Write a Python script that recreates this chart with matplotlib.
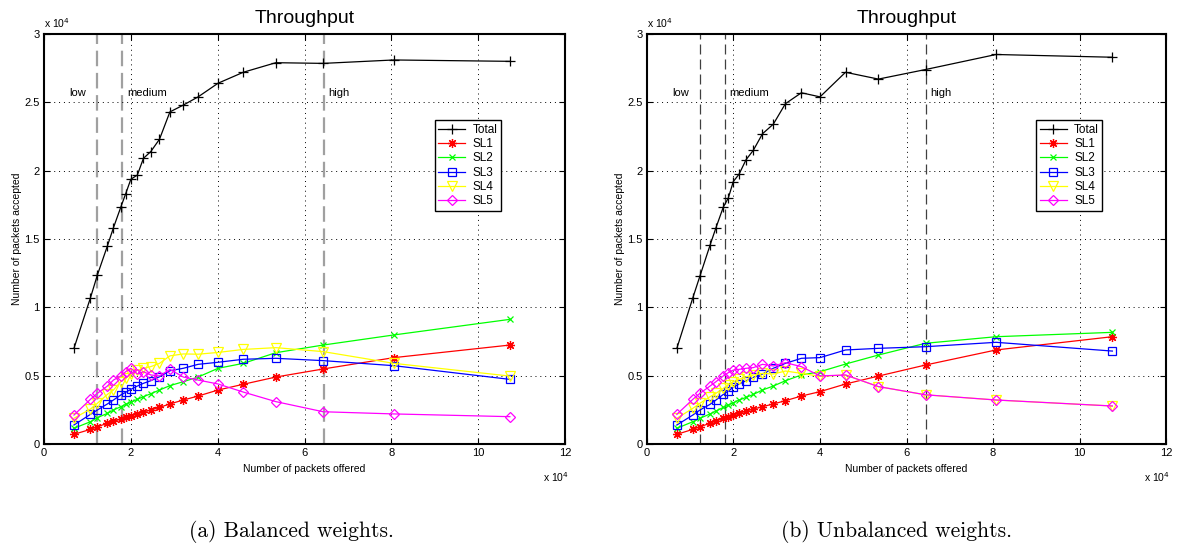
import matplotlib
matplotlib.use("Agg")
import matplotlib.pyplot as plt
from matplotlib.ticker import FormatStrFormatter

plt.rcParams['font.family'] = ['Liberation Sans', 'DejaVu Sans']

# ==== DATA (x and y in units of 1e4 packets) ====
x_bal = [0.69, 1.07, 1.23, 1.46, 1.60, 1.77, 1.88, 2.00, 2.15, 2.29, 2.46,
         2.66, 2.90, 3.21, 3.55, 4.01, 4.59, 5.34, 6.43, 8.06, 10.73]
total_bal = [0.70, 1.07, 1.237, 1.449, 1.583, 1.734, 1.83, 1.937, 1.968, 2.09, 2.14,
             2.23, 2.43, 2.48, 2.54, 2.64, 2.72, 2.79, 2.785, 2.81, 2.80]
sl1_bal = [0.071, 0.107, 0.127, 0.151, 0.166, 0.183, 0.195, 0.205, 0.22, 0.234, 0.249,
           0.268, 0.293, 0.322, 0.351, 0.395, 0.437, 0.49, 0.549, 0.632, 0.724]
sl2_bal = [0.115, 0.163, 0.193, 0.224, 0.249, 0.273, 0.29, 0.305, 0.327, 0.346, 0.368,
           0.395, 0.427, 0.456, 0.49, 0.554, 0.59, 0.668, 0.724, 0.798, 0.912]
sl3_bal = [0.139, 0.217, 0.249, 0.293, 0.322, 0.359, 0.378, 0.40, 0.424, 0.444, 0.463,
           0.492, 0.536, 0.554, 0.583, 0.598, 0.62, 0.627, 0.61, 0.573, 0.473]
sl4_bal = [0.188, 0.256, 0.298, 0.363, 0.395, 0.456, 0.48, 0.512, 0.54, 0.554, 0.566,
           0.59, 0.645, 0.659, 0.657, 0.67, 0.692, 0.705, 0.676, 0.59, 0.497]
sl5_bal = [0.212, 0.327, 0.371, 0.424, 0.468, 0.498, 0.529, 0.554, 0.512, 0.529, 0.505,
           0.498, 0.546, 0.49, 0.468, 0.439, 0.38, 0.31, 0.236, 0.22, 0.20]

x_unb = [0.69, 1.06, 1.225, 1.457, 1.595, 1.765, 1.88, 1.995, 2.13, 2.29, 2.46,
         2.67, 2.92, 3.20, 3.57, 4.00, 4.59, 5.35, 6.44, 8.07, 10.76]
total_unb = [0.70, 1.07, 1.23, 1.454, 1.583, 1.734, 1.80, 1.92, 1.975, 2.08, 2.15,
             2.27, 2.34, 2.49, 2.57, 2.54, 2.72, 2.67, 2.74, 2.85, 2.83]
sl1_unb = [0.071, 0.107, 0.127, 0.151, 0.168, 0.188, 0.20, 0.212, 0.224, 0.241, 0.256,
           0.273, 0.293, 0.317, 0.351, 0.383, 0.439, 0.497, 0.578, 0.688, 0.785]
sl2_unb = [0.115, 0.163, 0.188, 0.22, 0.241, 0.268, 0.285, 0.302, 0.322, 0.341, 0.363,
           0.395, 0.424, 0.463, 0.505, 0.529, 0.585, 0.651, 0.737, 0.785, 0.817]
sl3_unb = [0.139, 0.212, 0.249, 0.29, 0.322, 0.363, 0.388, 0.415, 0.439, 0.463, 0.488,
           0.512, 0.554, 0.59, 0.627, 0.632, 0.688, 0.70, 0.712, 0.744, 0.68]
sl4_unb = [0.188, 0.261, 0.298, 0.346, 0.371, 0.407, 0.432, 0.456, 0.473, 0.492, 0.505,
           0.517, 0.512, 0.534, 0.517, 0.495, 0.505, 0.42, 0.36, 0.322, 0.278]
sl5_unb = [0.217, 0.327, 0.371, 0.424, 0.456, 0.498, 0.522, 0.541, 0.546, 0.554, 0.559,
           0.583, 0.571, 0.595, 0.566, 0.498, 0.505, 0.42, 0.36, 0.322, 0.278]

# load region boundaries and labels
bounds = [1.23, 1.80, 6.45]
region_names = ["low", "medium", "high"]
region_x = [0.58, 1.91, 6.54]

series_names = ["Total", "SL1", "SL2", "SL3", "SL4", "SL5"]
colors = ["black", "#ff0000", "#00ff00", "#0000ff", "#ffff00", "#ff00ff"]
markers = ["+", (8, 2, 0), "x", "s", "v", "D"]
msizes = [7, 6.5, 4.5, 5.5, 6.5, 5.5]

panels = [
    (x_bal, [total_bal, sl1_bal, sl2_bal, sl3_bal, sl4_bal, sl5_bal],
     "(a) Balanced weights.", "#a0a0a0", 1.6, (7, 3)),
    (x_unb, [total_unb, sl1_unb, sl2_unb, sl3_unb, sl4_unb, sl5_unb],
     "(b) Unbalanced weights.", "#404040", 0.9, (8, 4)),
]

fig = plt.figure(figsize=(11.81, 5.45), dpi=100)
ax_rects = [[44 / 1181, 101 / 545, 521 / 1181, 410 / 545],
            [647 / 1181, 101 / 545, 519 / 1181, 410 / 545]]
caption_x = [0.247, 0.759]

for i, (xs, ys, caption, dcol, dlw, dash) in enumerate(panels):
    ax = fig.add_axes(ax_rects[i])

    for b in bounds:
        ax.axvline(b, color=dcol, lw=dlw, ls=(0, dash), zorder=1)
    for name, rx in zip(region_names, region_x):
        ax.text(rx, 2.57, name, fontsize=8, va="center", ha="left")

    for name, y, c, m, ms in zip(series_names, ys, colors, markers, msizes):
        ax.plot(xs, y, color=c, marker=m, ms=ms, lw=0.9, mfc="none",
                mec=c, mew=0.9, label=name, zorder=3)

    ax.set_xlim(0, 12)
    ax.set_ylim(0, 3)
    ax.set_xticks(range(0, 13, 2))
    ax.set_yticks([0, 0.5, 1, 1.5, 2, 2.5, 3])
    ax.yaxis.set_major_formatter(FormatStrFormatter('%g'))
    ax.tick_params(direction="in", top=True, right=True, labelsize=8,
                   length=4, width=0.8, pad=3)
    ax.grid(True, ls=(0, (1, 4)), color="black", lw=0.7)
    for s in ax.spines.values():
        s.set_linewidth(1.5)

    ax.set_title("Throughput", fontsize=14, pad=8)
    ax.set_xlabel("Number of packets offered", fontsize=7.5, labelpad=4)
    ax.set_ylabel("Number of packets accepted", fontsize=7.5, labelpad=2)
    ax.text(0.0, 1.01, r"x 10$^4$", transform=ax.transAxes, fontsize=7.5,
            ha="left", va="bottom")
    ax.text(1.008, -0.08, r"x 10$^4$", transform=ax.transAxes, fontsize=7.5,
            ha="right", va="center")

    leg = ax.legend(loc="upper left", bbox_to_anchor=(0.75, 0.79), fontsize=8.5,
                    fancybox=False, framealpha=1, edgecolor="black",
                    borderpad=0.3, labelspacing=0.2, handlelength=2.3,
                    handletextpad=0.6, borderaxespad=0)
    leg.get_frame().set_linewidth(1.0)

    fig.text(caption_x[i], 0.024, caption, family="cmr10", fontsize=15.5,
             ha="center", va="center")

fig.savefig("out.png", dpi=100)
